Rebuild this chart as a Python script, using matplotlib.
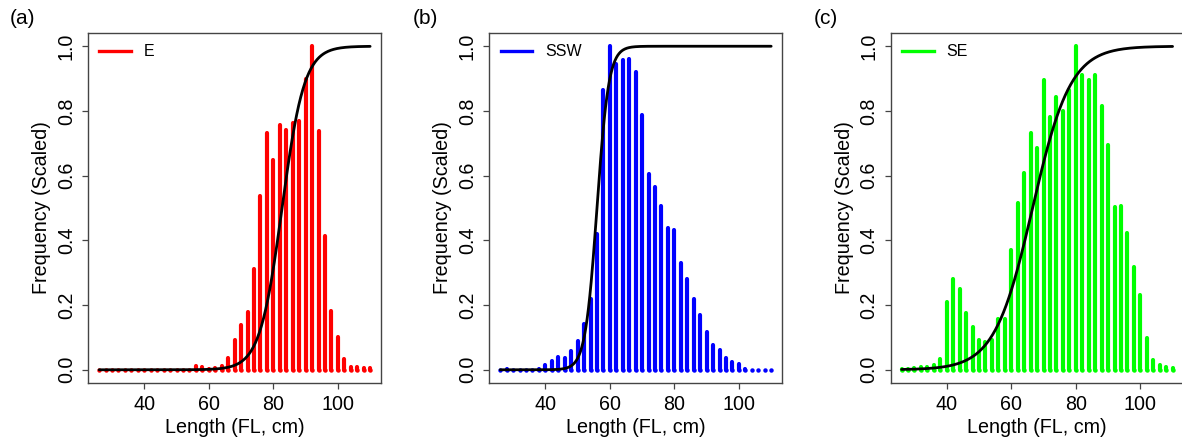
import matplotlib
matplotlib.use("Agg")
import matplotlib.pyplot as plt
import numpy as np

plt.rcParams["font.family"] = ["Liberation Sans", "DejaVu Sans"]

# length classes (FL, cm)
lengths = list(range(26, 111, 2))

freq_e = [0, 0, 0, 0, 0, 0, 0, 0, 0, 0, 0, 0, 0, 0, 0,
          0.012, 0.008, 0.003, 0.005, 0.012, 0.036, 0.093, 0.139, 0.18, 0.312,
          0.536, 0.732, 0.649, 0.758, 0.742, 0.763, 0.77, 0.9, 1.0, 0.737,
          0.412, 0.182, 0.1, 0.034, 0.01, 0.01, 0.004, 0.004]
freq_ssw = [0, 0.002, 0, 0, 0, 0, 0.002, 0.015, 0.028, 0.039, 0.036, 0.057, 0.09,
            0.142, 0.219, 0.42, 0.866, 1.0, 0.946, 0.957, 0.962, 0.921, 0.787,
            0.605, 0.566, 0.507, 0.438, 0.432, 0.329, 0.282, 0.22, 0.168, 0.116,
            0.077, 0.06, 0.036, 0.023, 0.017, 0.002, 0, 0, 0, 0]
freq_se = [0.002, 0.003, 0.005, 0.008, 0.01, 0.015, 0.034, 0.211, 0.28, 0.251,
           0.175, 0.131, 0.093, 0.087, 0.093, 0.156, 0.158, 0.37, 0.514, 0.607,
           0.733, 0.687, 0.895, 0.782, 0.844, 0.8, 0.864, 1.0, 0.912, 0.895,
           0.912, 0.815, 0.694, 0.502, 0.506, 0.422, 0.317, 0.231, 0.098, 0.029,
           0.015, 0.01, 0.005]

# logistic selectivity parameters (L50, slope)
sel_e = (82.7, 0.29)
sel_ssw = (56.0, 0.55)
sel_se = (66.6, 0.17)

panels = [
    ("(a)", "E", "#FF0000", freq_e, sel_e),
    ("(b)", "SSW", "#0000FF", freq_ssw, sel_ssw),
    ("(c)", "SE", "#00FF00", freq_se, sel_se),
]

fig = plt.figure(figsize=(11.82, 4.44), dpi=100)
lefts = [0.0747, 0.414, 0.7536]
label_x = [22.5, 425.7, 825.7]
spine_col = "#444444"

x = np.array(lengths)
xs = np.linspace(26, 110, 400)

for i, (tag, name, col, freq, (l50, k)) in enumerate(panels):
    ax = fig.add_axes([lefts[i], 0.138, 0.2476, 0.787])
    vl = ax.vlines(x, 0, freq, colors=col, linewidth=3.0)
    vl.set_capstyle("round")
    ax.plot(x, np.zeros_like(x), "o", color=col, markersize=3.2, markeredgewidth=0)
    ax.plot(xs, 1 / (1 + np.exp(-k * (xs - l50))), color="black", lw=2.0,
            solid_capstyle="round")
    ax.plot([], [], color=col, lw=2.4, label=name)
    ax.legend(loc="upper left", frameon=False, fontsize=11.5, handlelength=2.0,
              borderaxespad=0.3, bbox_to_anchor=(0.0, 1.0))

    ax.set_xlim(22.64, 113.36)
    ax.set_ylim(-0.04, 1.04)
    ax.set_xticks([40, 60, 80, 100])
    ax.set_yticks([0, 0.2, 0.4, 0.6, 0.8, 1.0])
    ax.set_yticklabels(["0.0", "0.2", "0.4", "0.6", "0.8", "1.0"],
                       rotation=90, va="center")
    ax.tick_params(direction="out", length=4.5, width=0.9, color=spine_col,
                   labelsize=14.2, pad=4.5)
    for sp in ax.spines.values():
        sp.set_color(spine_col)
        sp.set_linewidth(1.0)
    ax.set_xlabel("Length (FL, cm)", fontsize=14.2, labelpad=3)
    ax.set_ylabel("Frequency (Scaled)", fontsize=14.2, labelpad=4)
    fig.text(label_x[i] / 1182, 1 - 18 / 444, tag, fontsize=15,
             ha="center", va="center")

fig.savefig("out.png", dpi=100)
